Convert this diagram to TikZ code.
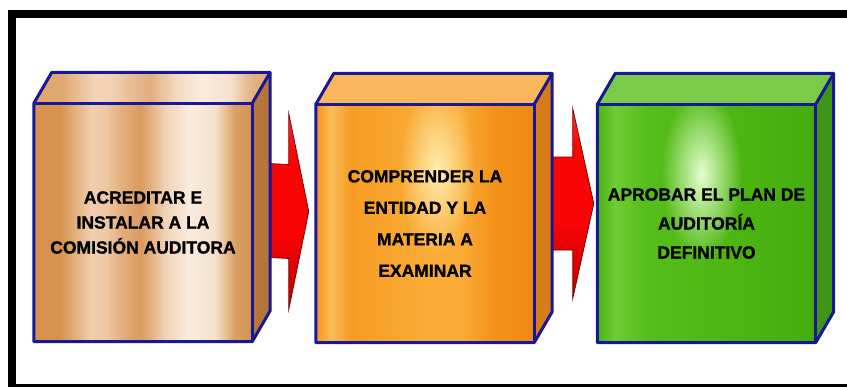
\documentclass[tikz,border=0pt]{standalone}
\usepackage{fontspec}
\setmainfont{Liberation Sans}[BoldFeatures={FakeBold=1.3}]
\usetikzlibrary{calc,backgrounds,fadings}
\definecolor{navyedge}{RGB}{24,24,150}
\definecolor{arrowtop}{RGB}{255,45,45}
\definecolor{arrowmid}{RGB}{250,5,5}
\definecolor{arrowbot}{RGB}{190,0,0}
\definecolor{arrowedge}{RGB}{110,0,0}
% copper
\definecolor{cuA}{RGB}{215,145,75}
\definecolor{cuB}{RGB}{215,147,78}
\definecolor{cuC}{RGB}{240,205,172}
\definecolor{cuD}{RGB}{238,200,165}
\definecolor{cuE}{RGB}{228,175,125}
\definecolor{cuF}{RGB}{218,155,95}
\definecolor{cuG}{RGB}{240,210,180}
\definecolor{cuH}{RGB}{250,236,222}
\definecolor{cuI}{RGB}{245,225,205}
\definecolor{cuJ}{RGB}{220,160,100}
\definecolor{cuK}{RGB}{210,145,80}
\definecolor{cuside}{RGB}{182,118,58}
% orange
\definecolor{orA}{RGB}{244,148,28}
\definecolor{orB}{RGB}{250,188,88}
\definecolor{orC}{RGB}{246,156,36}
\definecolor{orD}{RGB}{250,172,55}
\definecolor{orE}{RGB}{242,145,25}
\definecolor{orF}{RGB}{238,138,18}
\definecolor{ortop}{RGB}{250,182,90}
\definecolor{orside}{RGB}{214,124,24}
\definecolor{orglow}{RGB}{255,238,175}
% green
\definecolor{grA}{RGB}{72,178,20}
\definecolor{grB}{RGB}{112,204,52}
\definecolor{grC}{RGB}{86,190,26}
\definecolor{grD}{RGB}{78,182,18}
\definecolor{grE}{RGB}{68,172,14}
\definecolor{grtop}{RGB}{122,204,72}
\definecolor{grside}{RGB}{62,150,22}
\definecolor{grglow}{RGB}{228,255,205}
\pgfdeclarehorizontalshading{copperfront}{100bp}{color(0bp)=(cuA); color(25bp)=(cuA); color(31bp)=(cuB); color(38bp)=(cuC); color(41.5bp)=(cuD); color(45bp)=(cuE); color(49.5bp)=(cuF); color(55bp)=(cuG); color(60.5bp)=(cuH); color(66.5bp)=(cuI); color(71bp)=(cuJ); color(75bp)=(cuK); color(100bp)=(cuK)}
\pgfdeclarehorizontalshading{coppertop}{100bp}{color(0bp)=(cuA!80!white); color(25bp)=(cuA!80!white); color(31bp)=(cuB!80!white); color(38bp)=(cuC!85!white); color(41.5bp)=(cuD!85!white); color(45bp)=(cuE!80!white); color(49.5bp)=(cuF!80!white); color(55bp)=(cuG!85!white); color(60.5bp)=(cuH); color(66.5bp)=(cuI); color(71bp)=(cuJ!80!white); color(75bp)=(cuK!80!white); color(100bp)=(cuK!80!white)}
\pgfdeclarehorizontalshading{orangefront}{100bp}{color(0bp)=(orA); color(25bp)=(orA); color(28.5bp)=(orB); color(33bp)=(orC); color(50bp)=(orD); color(58bp)=(orD); color(66bp)=(orE); color(75bp)=(orF); color(100bp)=(orF)}
\pgfdeclarehorizontalshading{greenfront}{100bp}{color(0bp)=(grA); color(25bp)=(grA); color(29bp)=(grB); color(36bp)=(grC); color(55bp)=(grD); color(75bp)=(grE); color(100bp)=(grE)}
\pgfdeclareverticalshading{redarrow}{100bp}{color(0bp)=(arrowbot); color(25bp)=(arrowbot); color(45bp)=(arrowmid); color(65bp)=(arrowmid); color(75bp)=(arrowtop); color(100bp)=(arrowtop)}
\tikzfading[name=glow, inner color=transparent!0, outer color=transparent!100]
\tikzset{
  frontbox/.style={minimum width=218, minimum height=238, inner sep=0pt, align=center,
    font=\fontsize{17.5}{#1}\selectfont\bfseries, text=black},
  edge/.style={draw=navyedge, line width=3pt, line join=round},
  frame/.style={draw=black, line width=8pt}
}
% #1 node, #2 front shading, #3 top fill options, #4 side colour
\newcommand\cubefaces[4]{%
  \path[#3] (#1.north west) -- ++(18,-31) -- ($(#1.north east)+(18,-31)$) -- (#1.north east) -- cycle;
  \fill[#4] (#1.north east) -- ++(18,-31) -- ($(#1.south east)+(18,-31)$) -- (#1.south east) -- cycle;
  \shade[shading=#2] (#1.north west) rectangle (#1.south east);
}
\newcommand\cubeedges[1]{%
  \draw[edge] (#1.north west) -- ++(18,-31) -- ($(#1.north east)+(18,-31)$) -- ($(#1.south east)+(18,-31)$) -- (#1.south east) -- (#1.south west) -- cycle;
  \draw[edge] (#1.north west) -- (#1.north east) -- (#1.south east);
  \draw[edge] (#1.north east) -- ++(18,-31);
}
% #1 start coord, #2 tip coord, #3 body half, #4 head half, #5 head length
\newcommand\bigarrow[5]{%
  \shade[shading=redarrow, draw=arrowedge, line width=0.7pt, line join=miter]
    ($(#1)+(0,-#3)$) -- ($(#2)+(-#5,-#3)$) -- ($(#2)+(-#5,-#4)$) -- (#2)
    -- ($(#2)+(-#5,#4)$) -- ($(#2)+(-#5,#3)$) -- ($(#1)+(0,#3)$) -- cycle;
}
\begin{document}
\begin{tikzpicture}[x=1pt,y=-1pt]
\useasboundingbox (0,0) rectangle (847,386);
\clip (0,0) rectangle (847,386);

\node[frontbox=25] (b1) at (143,222.5) {ACREDITAR E\\INSTALAR A LA\\COMISIÓN AUDITORA};
\node[frontbox=31.5] (b2) at (425,223.5) {COMPRENDER LA\\ENTIDAD Y LA\\MATERIA A\\EXAMINAR};
\node[frontbox=29] (b3) at (706.5,223.5) {APROBAR EL PLAN DE\\AUDITORÍA\\DEFINITIVO};

\coordinate (a1s) at ($(b1.east)+(16,-12)$);
\coordinate (a1t) at ($(b2.west)+(-7,-12)$);
\coordinate (a2s) at ($(b2.east)+(17,-20)$);
\coordinate (a2t) at ($(b3.west)+(-3.5,-20)$);

\begin{scope}[on background layer]
  \fill[white] (0,0) rectangle (847,386);
  \draw[frame] (12,14) rectangle (853,388);

  \bigarrow{a1s}{a1t}{47}{98}{20}
  \bigarrow{a2s}{a2t}{46.5}{95}{21}

  \cubefaces{b1}{copperfront}{shading=coppertop}{cuside}
  \cubefaces{b2}{orangefront}{fill=ortop}{orside}
  \cubefaces{b3}{greenfront}{fill=grtop}{grside}

  \begin{scope}
    \clip (b2.north west) rectangle (b2.south east);
    \fill[orglow, path fading=glow] ($(b2.north)+(12,65)$) ellipse [x radius=38, y radius=85];
  \end{scope}
  \begin{scope}
    \clip (b3.north west) rectangle (b3.south east);
    \fill[grglow, path fading=glow] ($(b3.north)+(-5,70)$) ellipse [x radius=40, y radius=85];
  \end{scope}

  \cubeedges{b1}
  \cubeedges{b2}
  \cubeedges{b3}
\end{scope}
\end{tikzpicture}
\end{document}
